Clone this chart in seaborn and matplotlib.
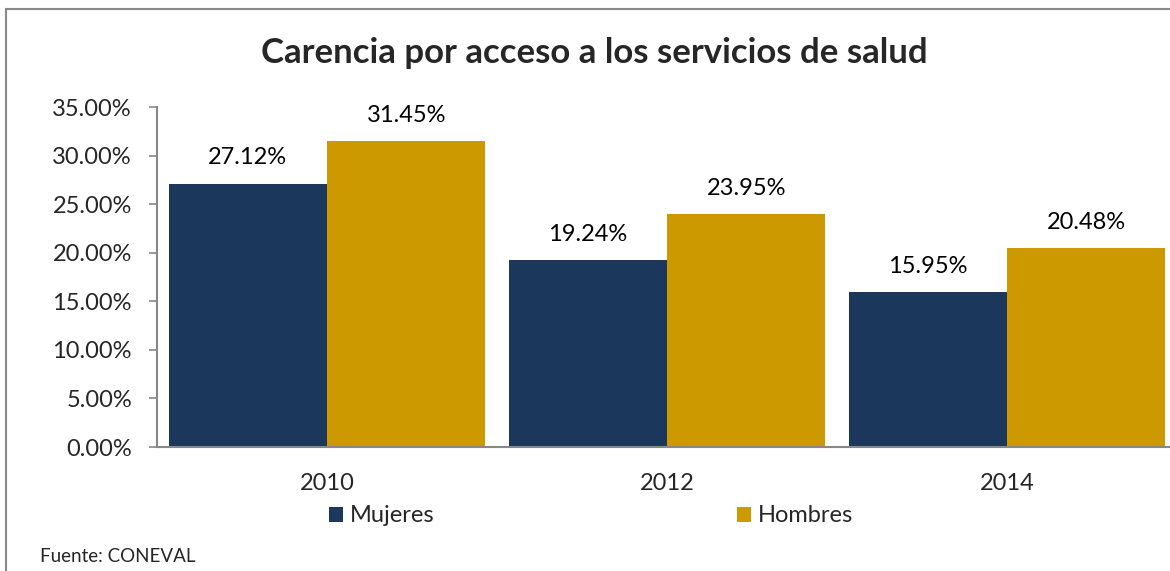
import matplotlib
matplotlib.use("Agg")
import matplotlib.pyplot as plt
import matplotlib.patches as mpatches
from matplotlib.ticker import FuncFormatter, FixedLocator
import seaborn as sns
import pandas as pd

years = ["2010", "2012", "2014"]
mujeres = [27.12, 19.24, 15.95]
hombres = [31.45, 23.95, 20.48]
series = ["Mujeres", "Hombres"]
colors = ["#1b375c", "#cc9900"]
yticks = [0, 5, 10, 15, 20, 25, 30, 35]

df = pd.DataFrame({
    "year": years * 2,
    "value": mujeres + hombres,
    "serie": [series[0]] * 3 + [series[1]] * 3,
})

sns.set_style("white")
plt.rcParams["font.family"] = ["Lato", "DejaVu Sans"]

fig = plt.figure(figsize=(11.70, 5.71), dpi=100)
ax = fig.add_axes([157 / 1170, 1 - 447 / 571, 1020 / 1170, 340 / 571])

sns.barplot(data=df, x="year", y="value", hue="serie", order=years,
            hue_order=series, palette=colors, width=0.932, gap=0,
            linewidth=0, saturation=1, ax=ax, legend=True)

for cont in ax.containers:
    ax.bar_label(cont, labels=[f"{v:.2f}%" for v in cont.datavalues],
                 padding=11, fontsize=17, color="black")

ax.set_xlim(-0.5, 2.5)
ax.set_ylim(0, 35)
ax.yaxis.set_major_locator(FixedLocator(yticks))
ax.yaxis.set_major_formatter(FuncFormatter(lambda v, p: f"{v:.2f}%"))
ax.set_xlabel("")
ax.set_ylabel("")
ax.set_xticks([-0.5, 0.5, 1.5, 2.5], minor=True)
ax.tick_params(axis="x", which="major", length=0, pad=19, labelsize=17)
ax.tick_params(axis="x", which="minor", length=6, width=1.2, color="#888888")
ax.tick_params(axis="y", which="major", length=6, width=1.2, color="#888888",
               labelsize=17, pad=12, left=True)
for s in ["top", "right"]:
    ax.spines[s].set_visible(False)
for s in ["left", "bottom"]:
    ax.spines[s].set_color("#888888")
    ax.spines[s].set_linewidth(1.5)

leg = ax.legend_
handles = leg.legend_handles
leg.remove()
fig.legend(handles, series, loc="center", bbox_to_anchor=(591 / 1170, 1 - 516 / 571),
           ncol=2, frameon=False, fontsize=17, handlelength=0.6, handleheight=0.6,
           handletextpad=0.3, columnspacing=12.8)

fig.text(594 / 1170, 1 - 53 / 571, "Carencia por acceso a los servicios de salud",
         ha="center", va="center", fontsize=25, fontweight="bold")
fig.text(40 / 1170, 1 - 557 / 571, "Fuente: CONEVAL", ha="left", va="center", fontsize=13.5)

fig.patches.append(mpatches.Rectangle((6 / 1170, -0.1), 1.2, 1.1 - 9 / 571,
                                      transform=fig.transFigure, fill=False,
                                      edgecolor="#8a8a8a", linewidth=1.5))

fig.savefig("out.png", dpi=100)
